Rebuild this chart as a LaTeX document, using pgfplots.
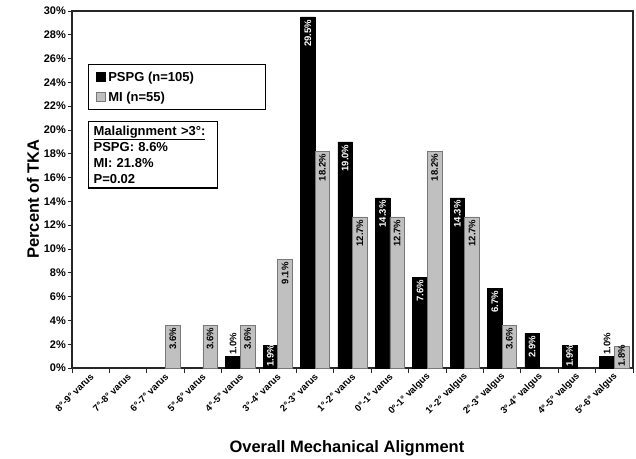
\documentclass[border=0pt]{standalone}
\usepackage{fontspec}
\setmainfont{Liberation Sans}
\usepackage{pgfplots}
\pgfplotsset{compat=1.18}
\usetikzlibrary{calc}
\definecolor{migray}{RGB}{192,192,192}
\definecolor{miedge}{RGB}{120,120,120}
\begin{document}
\begin{tikzpicture}
\begin{axis}[
  name=ax,
  scale only axis,
  width=561pt, height=357pt,
  xmin=-0.5, xmax=14.5, ymin=0, ymax=30,
  ybar, bar width=0.39,
  axis line style={line width=1.3pt, black!85},
  tick pos=left,
  tick align=outside,
  xtick={0,...,14},
  xticklabels={8°-9° varus,7°-8° varus,6°-7° varus,5°-6° varus,4°-5° varus,3°-4° varus,2°-3° varus,1°-2° varus,0°-1° varus,0°-1° valgus,1°-2° valgus,2°-3° valgus,3°-4° valgus,4°-5° valgus,5°-6° valgus},
  major x tick style={draw=none},
  minor xtick={-0.5,0.5,...,14.5},
  minor x tick style={line width=0.8pt, black!85},
  minor tick length=5pt,
  major tick length=4pt,
  ytick={0,2,...,30},
  yticklabel={\pgfmathparse{int(\tick)}\pgfmathresult\%},
  y tick style={line width=0.8pt, black!85},
  yticklabel style={font=\fontsize{11}{12}\selectfont\bfseries, inner sep=2pt},
  xticklabel style={rotate=45, anchor=east, font=\fontsize{9.5}{11}\selectfont\bfseries, inner sep=1pt, yshift=-3pt},
  xlabel={Overall Mechanical Alignment},
  xlabel style={at={(axis description cs:0.49,-0.224)}, anchor=center, font=\fontsize{16.5}{18}\selectfont\bfseries},
  ylabel={Percent of TKA},
  ylabel style={at={(axis description cs:-0.0695,0.473)}, anchor=center, rotate=0, font=\fontsize{16.5}{18}\selectfont\bfseries},
  legend style={at={(axis description cs:0.0285,0.8515)}, anchor=north west, draw=black, line width=1.3pt,
    font=\fontsize{13}{15}\selectfont\bfseries, inner xsep=7pt, inner ysep=5pt, row sep=5pt},
  legend cell align=left,
]
% bars
\addplot[fill=black, draw=black, line width=0.5pt, bar shift=-0.195,
  legend image code/.code={\draw[fill=black, draw=black, line width=0.5pt] (0pt,-4.5pt) rectangle (9pt,4.5pt); \path (10pt,0pt);}]
  coordinates {(4,1.0) (5,1.9) (6,29.5) (7,19.0) (8,14.3) (9,7.6) (10,14.3) (11,6.7) (12,2.9) (13,1.9) (14,1.0)};
\addlegendentry{\makebox[148pt][l]{PSPG (n=105)}}
\addplot[fill=migray, draw=miedge, line width=0.7pt, bar shift=0.195,
  legend image code/.code={\draw[fill=migray, draw=miedge, line width=0.6pt] (0pt,-4.5pt) rectangle (9pt,4.5pt); \path (10pt,0pt);}]
  coordinates {(2,3.6) (3,3.6) (4,3.6) (5,9.1) (6,18.2) (7,12.7) (8,12.7) (9,18.2) (10,12.7) (11,3.6) (14,1.8)};
\addlegendentry{\makebox[148pt][l]{MI (n=55)}}
% labels: PSPG inside (white)
\addplot[forget plot, draw=none, fill=none, bar shift=-0.195, point meta=explicit symbolic,
  nodes near coords, nodes near coords style={rotate=90, anchor=east, text=white, inner sep=2.5pt, font=\fontsize{9.5}{10}\selectfont\bfseries}]
  coordinates {(6,29.5)[29.5\%] (7,19.0)[19.0\%] (8,14.3)[14.3\%] (9,7.6)[7.6\%] (10,14.3)[14.3\%] (11,6.7)[6.7\%] (12,2.9)[2.9\%]};
% PSPG above (black)
\addplot[forget plot, draw=none, fill=none, bar shift=-0.195, point meta=explicit symbolic,
  nodes near coords, nodes near coords style={rotate=90, anchor=west, text=black, inner sep=1.5pt, font=\fontsize{9.5}{10}\selectfont\bfseries}]
  coordinates {(4,1.0)[1.0\%] (14,1.0)[1.0\%]};
% PSPG at base (white)
\addplot[forget plot, draw=none, fill=none, bar shift=-0.195, point meta=explicit symbolic,
  nodes near coords, nodes near coords style={rotate=90, anchor=west, text=white, inner sep=1.5pt, font=\fontsize{9.5}{10}\selectfont\bfseries}]
  coordinates {(5,0)[1.9\%] (13,0)[1.9\%]};
% MI inside (black)
\addplot[forget plot, draw=none, fill=none, bar shift=0.195, point meta=explicit symbolic,
  nodes near coords, nodes near coords style={rotate=90, anchor=east, text=black, inner sep=2.5pt, font=\fontsize{9.5}{10}\selectfont\bfseries}]
  coordinates {(2,3.6)[3.6\%] (3,3.6)[3.6\%] (4,3.6)[3.6\%] (5,9.1)[9.1\%] (6,18.2)[18.2\%] (7,12.7)[12.7\%] (8,12.7)[12.7\%] (9,18.2)[18.2\%] (10,12.7)[12.7\%] (11,3.6)[3.6\%]};
% MI at base (black)
\addplot[forget plot, draw=none, fill=none, bar shift=0.195, point meta=explicit symbolic,
  nodes near coords, nodes near coords style={rotate=90, anchor=west, text=black, inner sep=1.5pt, font=\fontsize{9.5}{10}\selectfont\bfseries}]
  coordinates {(14,0)[1.8\%]};
\node[draw=black, line width=1.3pt, anchor=north west, align=left, text width=119pt, inner xsep=5pt, inner ysep=4pt,
  font=\fontsize{13}{16.3}\selectfont\bfseries]
  at (axis description cs:0.0285,0.692)
  {\underline{Malalignment >3°:}\\PSPG: 8.6\%\\MI: 21.8\%\\P=0.02};
\end{axis}
\pgfresetboundingbox
\path ($(ax.south west)+(-72pt,-90pt)$) rectangle ($(ax.north east)+(3pt,11pt)$);
\end{tikzpicture}
\end{document}
